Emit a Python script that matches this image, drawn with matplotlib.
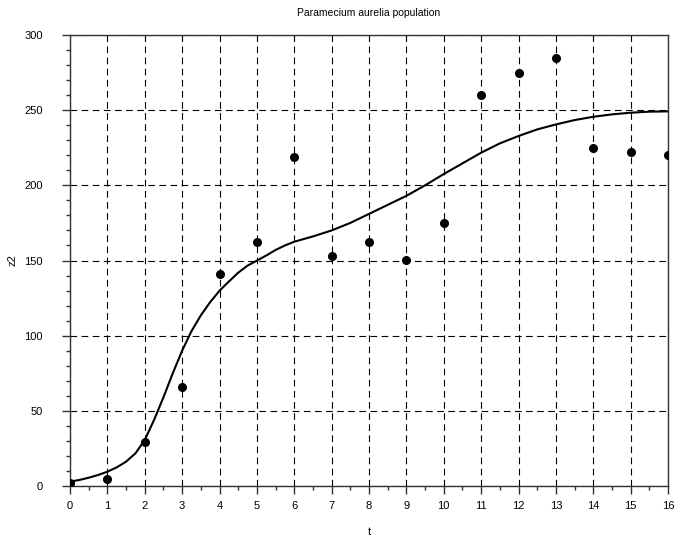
import numpy as np
import matplotlib
matplotlib.use('Agg')
import matplotlib.pyplot as plt
from matplotlib.ticker import MultipleLocator

plt.rcParams['font.family'] = ['Liberation Sans', 'DejaVu Sans']

# Observed population (points)
t_obs = [0, 1, 2, 3, 4, 5, 6, 7, 8, 9, 10, 11, 12, 13, 14, 15, 16]
z_obs = [2, 4.5, 29, 66, 141, 162, 219, 153, 162, 150.5, 175, 260, 275, 285, 225, 222, 220]

# Fitted curve
t_fit = [0, 0.25, 0.5, 0.75, 1, 1.25, 1.5, 1.75, 2, 2.25, 2.5, 2.75, 3, 3.25, 3.5, 3.75,
         4, 4.25, 4.5, 4.75, 5, 5.25, 5.5, 5.75, 6, 6.5, 7, 7.5, 8, 8.5, 9, 9.5,
         10, 10.5, 11, 11.5, 12, 12.5, 13, 13.5, 14, 14.5, 15, 15.5, 16]
z_fit = [2.9, 4, 5.5, 7.3, 9.5, 12.4, 16.2, 21.7, 30.6, 44, 59, 75, 90, 103, 113.5, 122.3,
         129.9, 136, 141.9, 146.6, 149.9, 153.3, 157, 160, 162.5, 166, 170, 175, 181, 187, 193, 200,
         207.5, 214.6, 221.7, 227.9, 232.8, 237.2, 240.5, 243.4, 245.6, 247.2, 248.3, 249, 249.2]

fig = plt.figure(figsize=(6.75, 5.37), dpi=100)
ax = fig.add_axes([70 / 675, 1 - 486 / 537, 598 / 675, 451 / 537])

ax.plot(t_fit, z_fit, color='black', lw=1.5, zorder=3)
ax.plot(t_obs, z_obs, 'o', color='black', markersize=5.5, zorder=4)

ax.set_xlim(0, 16)
ax.set_ylim(0, 300)
ax.xaxis.set_major_locator(MultipleLocator(1))
ax.xaxis.set_minor_locator(MultipleLocator(0.5))
ax.yaxis.set_major_locator(MultipleLocator(50))
ax.yaxis.set_minor_locator(MultipleLocator(10))

ax.grid(True, which='major', color='black', lw=0.8, dashes=(6, 4))
ax.set_axisbelow(True)

ax.tick_params(which='both', direction='out', top=False, right=False, colors='#333333',
               labelcolor='black')
ax.tick_params(which='major', length=5.5, width=1)
ax.tick_params(which='minor', length=3, width=1)
ax.tick_params(axis='x', which='major', labelsize=8, pad=5)
ax.tick_params(axis='y', which='major', labelsize=8, pad=14)

for s in ax.spines.values():
    s.set_color('#333333')
    s.set_linewidth(1)

ax.set_title('Paramecium aurelia population', fontsize=7.5, pad=14)
ax.set_xlabel('t', fontsize=8, labelpad=12)
ax.set_ylabel('z2', fontsize=8, labelpad=5)

fig.savefig('out.png', dpi=100)
